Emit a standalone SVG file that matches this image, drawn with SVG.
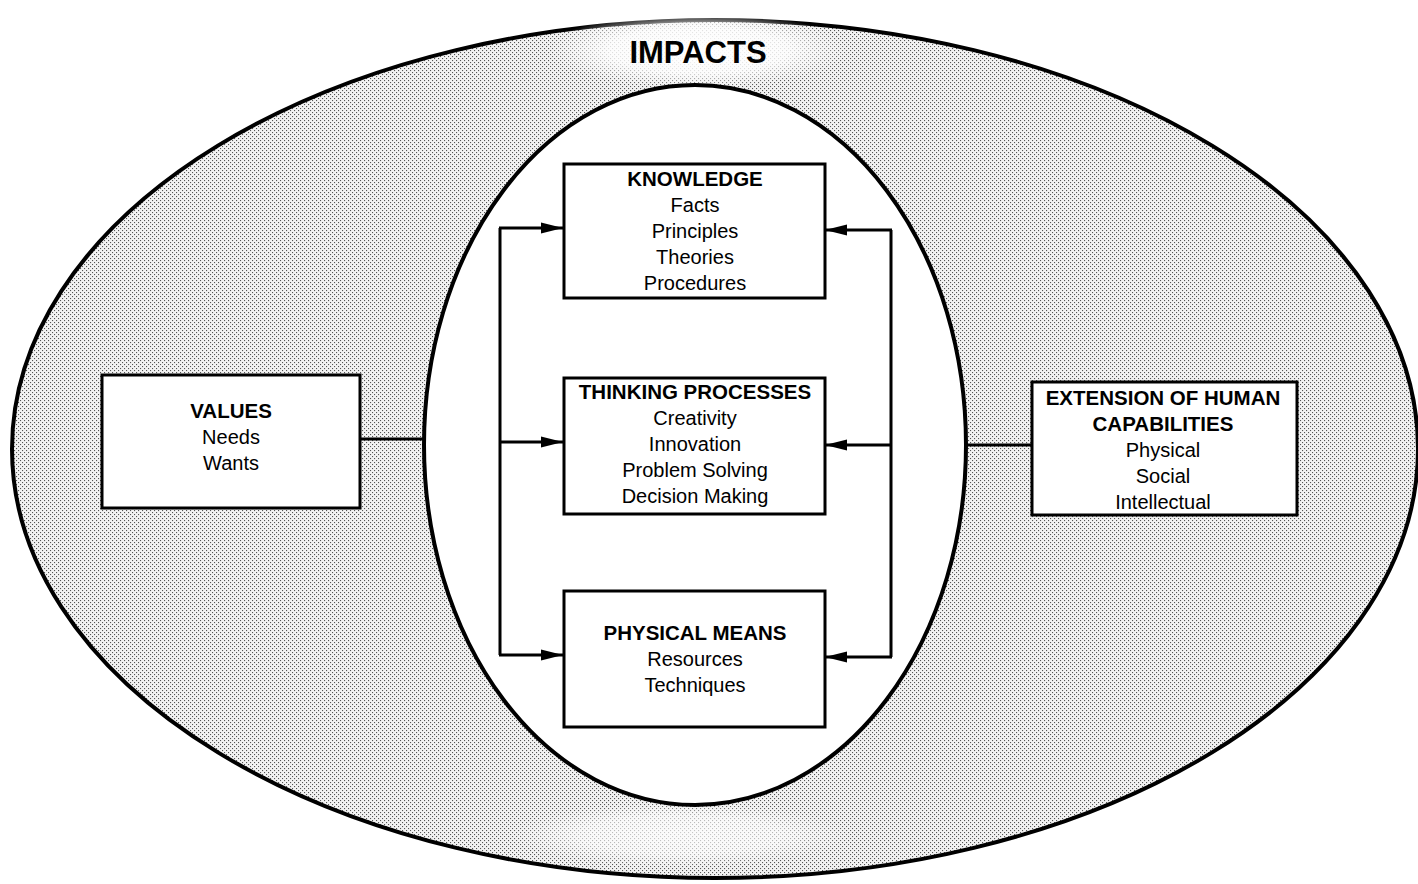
<svg xmlns="http://www.w3.org/2000/svg" width="1418" height="884" viewBox="0 0 1418 884">
  <defs>
    <pattern id="stipple" width="4" height="4" patternUnits="userSpaceOnUse">
      <rect width="4" height="4" fill="#f3f3f3"/>
      <rect x="0" y="0" width="1.1" height="1.1" fill="#555"/>
      <rect x="2" y="2" width="1.1" height="1.1" fill="#555"/>
    </pattern>
    <radialGradient id="fadeTop" cx="0.5" cy="0.5" r="0.5">
      <stop offset="0" stop-color="#fff" stop-opacity="1"/>
      <stop offset="0.6" stop-color="#fff" stop-opacity="0.8"/>
      <stop offset="1" stop-color="#fff" stop-opacity="0"/>
    </radialGradient>
    <marker id="arrow" markerUnits="userSpaceOnUse" markerWidth="22" markerHeight="12" refX="22" refY="6" orient="auto">
      <path d="M0,0.5 L22,6 L0,11.5 Z" fill="#000"/>
    </marker>
    <style>
      .box { fill: #fff; stroke: #000; stroke-width: 3; }
      .conn { fill: none; stroke: #000; stroke-width: 3; }
      .title { font-family: "Liberation Sans", Arial, sans-serif; font-weight: bold; font-size: 20.5px; text-anchor: middle; fill: #000; }
      .item { font-family: "Liberation Sans", Arial, sans-serif; font-size: 20px; text-anchor: middle; fill: #000; }
    </style>
  </defs>

  <rect width="1418" height="884" fill="#fff"/>

  <g id="impacts">
    <ellipse cx="715" cy="449" rx="703" ry="429" fill="url(#stipple)" stroke="#000" stroke-width="4"/>
    <ellipse cx="698" cy="50" rx="150" ry="38" fill="url(#fadeTop)"/>
    <ellipse cx="680" cy="835" rx="170" ry="32" fill="url(#fadeTop)" opacity="0.7"/>
    <text x="698" y="63" font-family="'Liberation Sans', Arial, sans-serif" font-weight="bold" font-size="31" text-anchor="middle">IMPACTS</text>
  </g>

  <g id="core">
    <ellipse cx="695" cy="445" rx="271" ry="360" fill="#fff" stroke="#000" stroke-width="4"/>
  </g>

  <g id="connectors">
    <line class="conn" x1="360" y1="439" x2="424" y2="439"/>
    <line class="conn" x1="965" y1="445" x2="1032" y2="445"/>
    <polyline class="conn" points="500,228 500,655"/>
    <line class="conn" x1="499" y1="228" x2="563" y2="228" marker-end="url(#arrow)"/>
    <line class="conn" x1="499" y1="442" x2="563" y2="442" marker-end="url(#arrow)"/>
    <line class="conn" x1="499" y1="655" x2="563" y2="655" marker-end="url(#arrow)"/>
    <polyline class="conn" points="891,230 891,657"/>
    <line class="conn" x1="892" y1="230" x2="825" y2="230" marker-end="url(#arrow)"/>
    <line class="conn" x1="892" y1="445" x2="825" y2="445" marker-end="url(#arrow)"/>
    <line class="conn" x1="892" y1="657" x2="825" y2="657" marker-end="url(#arrow)"/>
  </g>

  <g id="knowledge">
    <rect class="box" x="564" y="164" width="261" height="134"/>
    <text class="title" x="695" y="186">KNOWLEDGE</text>
    <text class="item" x="695" y="212">Facts</text>
    <text class="item" x="695" y="238">Principles</text>
    <text class="item" x="695" y="264">Theories</text>
    <text class="item" x="695" y="290">Procedures</text>
  </g>

  <g id="thinking">
    <rect class="box" x="564" y="378" width="261" height="136"/>
    <text class="title" x="695" y="399">THINKING PROCESSES</text>
    <text class="item" x="695" y="425">Creativity</text>
    <text class="item" x="695" y="451">Innovation</text>
    <text class="item" x="695" y="477">Problem Solving</text>
    <text class="item" x="695" y="503">Decision Making</text>
  </g>

  <g id="physical">
    <rect class="box" x="564" y="591" width="261" height="136"/>
    <text class="title" x="695" y="640">PHYSICAL MEANS</text>
    <text class="item" x="695" y="666">Resources</text>
    <text class="item" x="695" y="692">Techniques</text>
  </g>

  <g id="values">
    <rect class="box" x="102" y="375" width="258" height="133"/>
    <text class="title" x="231" y="418">VALUES</text>
    <text class="item" x="231" y="444">Needs</text>
    <text class="item" x="231" y="470">Wants</text>
  </g>

  <g id="extension">
    <rect class="box" x="1032" y="382" width="265" height="133"/>
    <text class="title" x="1163" y="405">EXTENSION OF HUMAN</text>
    <text class="title" x="1163" y="431">CAPABILITIES</text>
    <text class="item" x="1163" y="457">Physical</text>
    <text class="item" x="1163" y="483">Social</text>
    <text class="item" x="1163" y="509">Intellectual</text>
  </g>
</svg>
